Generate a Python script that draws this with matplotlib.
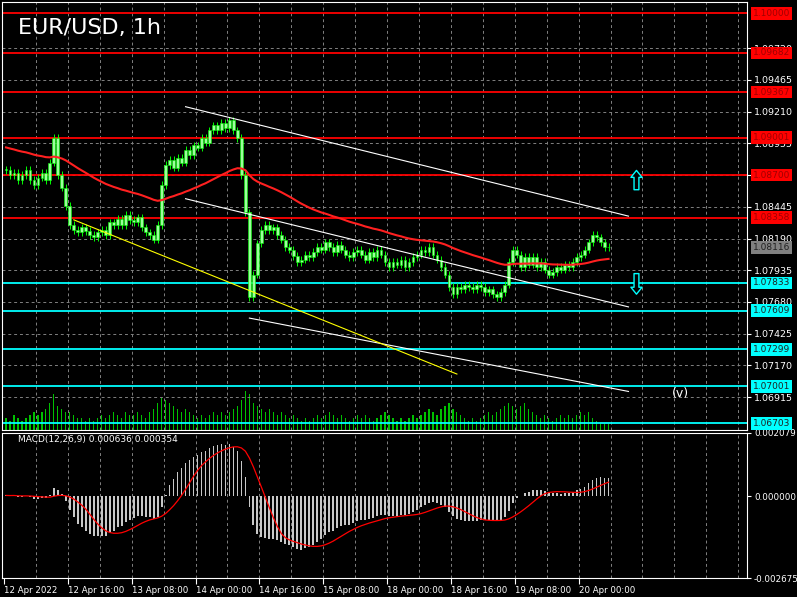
import numpy as np
import pandas as pd
import matplotlib
matplotlib.use("Agg")
import matplotlib.pyplot as plt

closes = [
    1.0874, 1.0870, 1.0872, 1.0866, 1.0870, 1.0874, 1.0866, 1.0862,
    1.0868, 1.0872, 1.0866, 1.0880, 1.0900, 1.0870, 1.0860, 1.0845,
    1.0830, 1.0826, 1.0824, 1.0828, 1.0825, 1.0822, 1.0820, 1.0824,
    1.0826, 1.0822, 1.0832, 1.0830, 1.0835, 1.0830, 1.0838, 1.0834,
    1.0832, 1.0836, 1.0828, 1.0824, 1.0822, 1.0818, 1.0830, 1.0862,
    1.0878, 1.0882, 1.0876, 1.0884, 1.0880, 1.0890, 1.0886, 1.0894,
    1.0892, 1.0900, 1.0896, 1.0906, 1.0910, 1.0906, 1.0912, 1.0908,
    1.0914, 1.0906, 1.0900, 1.0870, 1.0840, 1.0772, 1.0790, 1.0815,
    1.0826, 1.0830, 1.0826, 1.0828, 1.0822, 1.0818, 1.0812, 1.0810,
    1.0805, 1.0800, 1.0802, 1.0806, 1.0804, 1.0808, 1.0812, 1.0810,
    1.0816, 1.0812, 1.0808, 1.0814, 1.0810, 1.0806, 1.0804, 1.0808,
    1.0810, 1.0806, 1.0802, 1.0808, 1.0804, 1.0810, 1.0806, 1.0800,
    1.0796, 1.0800, 1.0798, 1.0802, 1.0796, 1.0800, 1.0804, 1.0806,
    1.0810, 1.0808, 1.0812, 1.0806, 1.0802, 1.0796, 1.0790, 1.0780,
    1.0774, 1.0780, 1.0778, 1.0782, 1.0780, 1.0778, 1.0782, 1.0780,
    1.0776, 1.0778, 1.0774, 1.0772, 1.0776, 1.0782, 1.0800, 1.0810,
    1.0806, 1.0796, 1.0804, 1.0798, 1.0804, 1.0796, 1.0800, 1.0794,
    1.0790, 1.0792, 1.0796, 1.0794, 1.0798, 1.0796, 1.0800, 1.0804,
    1.0806, 1.0810, 1.0816, 1.0822, 1.0820, 1.0816, 1.0812, 1.0812,
]
volumes = [
    4, 3, 5, 4, 3, 4, 5, 6, 5, 6, 7, 9, 12, 8, 7, 6,
    6, 5, 4, 4, 3, 4, 3, 4, 5, 4, 5, 6, 5, 4, 6, 5,
    5, 6, 5, 4, 6, 7, 9, 11, 10, 9, 8, 7, 6, 7, 6, 5,
    4, 5, 4, 5, 6, 5, 6, 5, 6, 7, 8, 10, 13, 12, 9, 8,
    7, 6, 7, 6, 5, 6, 5, 4, 5, 4, 3, 4, 3, 4, 5, 4,
    5, 6, 5, 4, 5, 4, 3, 4, 5, 4, 5, 4, 3, 4, 5, 6,
    5, 4, 3, 4, 3, 4, 5, 4, 5, 6, 7, 6, 5, 7, 8, 9,
    7, 6, 5, 4, 3, 4, 3, 4, 5, 6, 5, 6, 7, 8, 9, 8,
    7, 8, 9, 7, 6, 5, 4, 5, 4, 3, 4, 5, 4, 5, 4, 5,
    6, 5, 6, 4, 3, 2, 2, 2,
]
date_labels = ["12 Apr 2022", "12 Apr 16:00", "13 Apr 08:00", "14 Apr 00:00",
               "14 Apr 16:00", "15 Apr 08:00", "18 Apr 00:00", "18 Apr 16:00",
               "19 Apr 08:00", "20 Apr 00:00"]
price_ticks = [1.09720, 1.09465, 1.09210, 1.08955, 1.08700, 1.08445, 1.08190,
               1.07935, 1.07680, 1.07425, 1.07170, 1.06915]
red_levels = [1.10000, 1.09682, 1.09367, 1.09001, 1.08700, 1.08358]
cyan_levels = [1.07833, 1.07609, 1.07299, 1.07001, 1.06703]
last_price = 1.08116
# trend lines: (bar0, price0, bar1, price1)
white_lines = [(45, 1.0925, 156, 1.0837), (45, 1.0851, 156, 1.0764), (61, 1.0755, 156, 1.0696)]
yellow_line = (17, 1.0834, 113, 1.0710)

BG = "black"
c = pd.Series(closes)
n = len(c)
x = np.arange(n)
opens = c.shift(1).fillna(c.iloc[0]).values
cl = c.values

fig = plt.figure(figsize=(7.97, 5.97), dpi=100, facecolor=BG)
L, R = 2 / 797, 747 / 797
ax = fig.add_axes([L, 1 - 430 / 597, R - L, 428 / 597], facecolor=BG)
axm = fig.add_axes([L, 1 - 578 / 597, R - L, 145 / 597], facecolor=BG)
xmax = 185.7
ymin, ymax = 1.0665, 1.10092

for a in (ax, axm):
    a.set_xlim(-1, xmax)
    for s in a.spines.values():
        s.set_color("white")
    a.tick_params(colors="white", labelsize=6.8, direction="out", length=3, pad=2)
    for g in np.arange(-0.5 + 8, xmax, 8):
        a.axvline(g, color="#808080", ls=(0, (3, 3)), lw=0.7, zorder=0)

# volume
axv = ax.twinx()
axv.set_ylim(0, max(volumes) * 11)
axv.bar(x, volumes, width=0.3, color="#00c000")
axv.axis("off")
ax.set_zorder(axv.get_zorder() + 1)
ax.patch.set_visible(False)
fig.add_artist(plt.Rectangle((L, 1 - 430 / 597), R - L, 428 / 597, transform=fig.transFigure,
                             color=BG, zorder=-10))

ax.set_ylim(ymin, ymax)
for p in price_ticks:
    ax.axhline(p, color="#808080", ls=(0, (3, 3)), lw=0.7, zorder=0)

# candles
hi = np.maximum(opens, cl) + 0.0003
lo = np.minimum(opens, cl) - 0.0003
ax.vlines(x, lo, hi, color="#00ff00", lw=0.7, zorder=3)
ax.bar(x, np.maximum(np.abs(cl - opens), 0.00005), bottom=np.minimum(opens, cl),
       width=0.7, color="#9cff9c", edgecolor="#00ff00", lw=0.4, zorder=4)

# moving average
ma = pd.concat([pd.Series([1.0893] * 30), c]).ewm(span=50, adjust=False).mean().values[30:]
ax.plot(x, ma, color="#ff2020", lw=1.5, zorder=5)

for p in red_levels:
    ax.axhline(p, color="red", lw=1.3, zorder=2)
for p in cyan_levels:
    ax.axhline(p, color="#00ffff", lw=1.3, zorder=2)
for b0, p0, b1, p1 in white_lines:
    ax.plot([b0, b1], [p0, p1], color="white", lw=0.8, zorder=6)
b0, p0, b1, p1 = yellow_line
ax.plot([b0, b1], [p0, p1], color="yellow", lw=0.8, zorder=6)

ax.annotate("", xy=(158, 1.0876), xytext=(158, 1.0856),
            arrowprops=dict(arrowstyle="simple,head_width=0.8,tail_width=0.35", fc=BG, ec="#00ffff"))
ax.annotate("", xy=(158, 1.0772), xytext=(158, 1.0793),
            arrowprops=dict(arrowstyle="simple,head_width=0.8,tail_width=0.35", fc=BG, ec="#00ffff"))
ax.text(169, 1.0694, "(v)", color="white", fontsize=9, ha="center", va="center")
ax.text(3, 1.0988, "EUR/USD, 1h", color="white", fontsize=16, va="center")

ax.yaxis.tick_right()
ax.set_yticks(price_ticks)
ax.set_yticklabels([f"{p:.5f}" for p in price_ticks])
ax.set_xticks([])
for p in red_levels + cyan_levels + [last_price]:
    col = "#808080" if p == last_price else ("red" if p in red_levels else "#00ffff")
    tc = "#202020" if col != "red" else "#a00000"
    ax.text(1.008, p, f"{p:.5f}", transform=ax.get_yaxis_transform(), fontsize=6.5,
            color=tc, va="center", ha="left", zorder=10,
            bbox=dict(boxstyle="square,pad=0.2", fc=col, ec="none"))

# MACD
full = pd.concat([pd.Series([1.0870] * 40), c])
macd = (full.ewm(span=12, adjust=False).mean() - full.ewm(span=26, adjust=False).mean()).values[40:]
signal = pd.Series(macd).rolling(9, min_periods=1).mean().values
axm.bar(x, macd, width=0.45, color="#c8c8c8", zorder=3)
axm.plot(x, signal, color="red", lw=0.9, zorder=4)
axm.set_ylim(-0.002675, 0.002079)
axm.set_yticks([0.002079, 0.0, -0.002675])
axm.set_yticklabels(["0.002079", "0.000000", "-0.002675"])
axm.yaxis.tick_right()
axm.tick_params(axis="y", labelsize=6.3)
axm.text(3, 0.00185, "MACD(12,26,9) 0.000636 0.000354", color="white", fontsize=6.5, va="center")
axm.set_xticks(np.arange(0, 160, 16) - 0.5)
axm.set_xticklabels(date_labels, ha="left", fontsize=6.2)
axm.tick_params(axis="x", length=4, pad=2)

fig.savefig("out.png", dpi=100, facecolor=BG)
